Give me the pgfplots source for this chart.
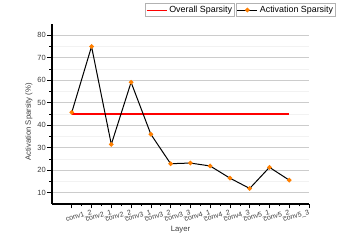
\documentclass[border=0pt]{standalone}
\usepackage{pgfplots}
\pgfplotsset{compat=1.18}
\usepackage{fontspec}
\setmainfont{Liberation Sans}
\definecolor{mkorange}{RGB}{255,127,0}
\definecolor{txtgray}{RGB}{60,60,60}
\pgfplotsset{
  common/.style={
    scale only axis, width=257pt, height=180pt,
    xmin=0, xmax=13, ymin=5, ymax=85,
    anchor=south west, at={(0,0)},
  },
  mylegend/.style={
    legend style={font=\fontsize{8.9}{10}\selectfont, draw=gray!60, line width=0.6pt,
      inner sep=0.6pt, anchor=south east, at={#1}},
    legend image code/.code={\draw[mark repeat=2,mark phase=2,##1] plot coordinates {(0pt,0pt) (10pt,0pt) (20pt,0pt)};},
  },
}
\begin{document}
\begin{tikzpicture}
\path[use as bounding box] (-52pt,-36pt) rectangle (291pt,204pt);
\begin{axis}[common, mylegend={(0.712,1.039)},
  axis lines=left, axis line style={-, line width=1.1pt},
  tick align=outside,
  xtick={1,...,13},
  xticklabels={,conv1\_2,conv2\_1,conv2\_2,conv3\_1,conv3\_2,conv3\_3,conv4\_1,conv4\_2,conv4\_3,conv5\_1,conv5\_2,conv5\_3},
  minor x tick num=1,
  ytick={10,20,...,80}, minor y tick num=1,
  ymajorgrids, yminorgrids,
  major grid style={gray!40, line width=0.6pt},
  minor grid style={gray!10, line width=0.5pt},
  tick style={black, line width=0.6pt},
  major tick length=4.5pt, minor tick length=2.5pt,
  x tick label style={rotate=15, anchor=north east, font=\fontsize{7}{8}\selectfont, text=txtgray, inner sep=0.8pt},
  y tick label style={font=\fontsize{7.5}{9}\selectfont, text=txtgray, inner sep=1.5pt},
  /pgf/number format/assume math mode=true,
  xlabel=Layer, ylabel={Activation Sparsity (\%)},
  xlabel style={at={(axis description cs:0.5,-0.12)}, anchor=north, inner sep=0pt, font=\fontsize{7.7}{9}\selectfont, text=txtgray},
  ylabel style={at={(axis description cs:-0.0895,0.456)}, anchor=center, rotate=0, inner sep=0pt, font=\fontsize{7.7}{9}\selectfont, text=txtgray},
]
\addplot[red, line width=1.2pt] coordinates {(1,45) (12,45)};
\addlegendentry{Overall Sparsity}
\end{axis}
\begin{axis}[common, hide axis, mylegend={(1.105,1.039)}]
\addplot[black, line width=1pt, mark=*, mark size=1.8pt, mark options={draw=mkorange, fill=mkorange}]
coordinates {(1,45.7) (2,75.0) (3,31.5) (4,59.1) (5,36.0) (6,22.9) (7,23.2) (8,21.9) (9,16.5) (10,11.9) (11,21.3) (12,15.6)};
\addlegendentry{Activation Sparsity}
\end{axis}
\end{tikzpicture}
\end{document}
